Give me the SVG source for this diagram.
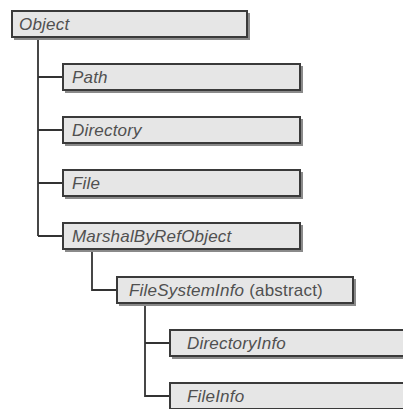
<svg xmlns="http://www.w3.org/2000/svg" width="403" height="409" viewBox="0 0 403 409">
<style>
.box{fill:#e6e6e6;stroke:#3a3a3a;stroke-width:2}
.sh{fill:none;stroke:#8a8a8a;stroke-width:2}
.t{font-family:"Liberation Sans",Arial,sans-serif;font-size:17px;letter-spacing:0.2px;font-style:italic;fill:#505050}
.n{font-style:normal}
.c{fill:none;stroke:#333;stroke-width:1.8}
</style>
<rect width="403" height="409" fill="#ffffff"/>
<g id="connectors">
<path class="c" d="M38 37V236M38 77H63M38 130H63M38 183H63M38 236H63"/>
<path class="c" d="M92 250V290H117"/>
<path class="c" d="M145 303V396H170M145 343H170"/>
</g>
<g id="Object"><path class="sh" d="M249 13V39H14"/><rect class="box" x="12" y="11" width="235" height="26"/><text class="t" x="19" y="30">Object</text></g>
<g id="Path"><path class="sh" d="M302 66V92H65"/><rect class="box" x="63" y="64" width="237" height="26"/><text class="t" x="72" y="83">Path</text></g>
<g id="Directory"><path class="sh" d="M302 119V145H65"/><rect class="box" x="63" y="117" width="237" height="26"/><text class="t" x="72" y="136">Directory</text></g>
<g id="File"><path class="sh" d="M302 172V198H65"/><rect class="box" x="63" y="170" width="237" height="26"/><text class="t" x="72" y="189">File</text></g>
<g id="MarshalByRefObject"><path class="sh" d="M302 225V251H65"/><rect class="box" x="63" y="223" width="237" height="26"/><text class="t" x="72" y="242">MarshalByRefObject</text></g>
<g id="FileSystemInfo"><path class="sh" d="M355 279V305H119"/><rect class="box" x="117" y="277" width="236" height="26"/><text class="t" x="129" y="296">FileSystemInfo<tspan class="n"> (abstract)</tspan></text></g>
<g id="DirectoryInfo"><path class="sh" d="M172 358H410"/><rect class="box" x="170" y="330" width="245" height="26"/><text class="t" x="187" y="349">DirectoryInfo</text></g>
<g id="FileInfo"><path class="sh" d="M172 411H410"/><rect class="box" x="170" y="383" width="245" height="26"/><text class="t" x="187" y="402">FileInfo</text></g>
</svg>
